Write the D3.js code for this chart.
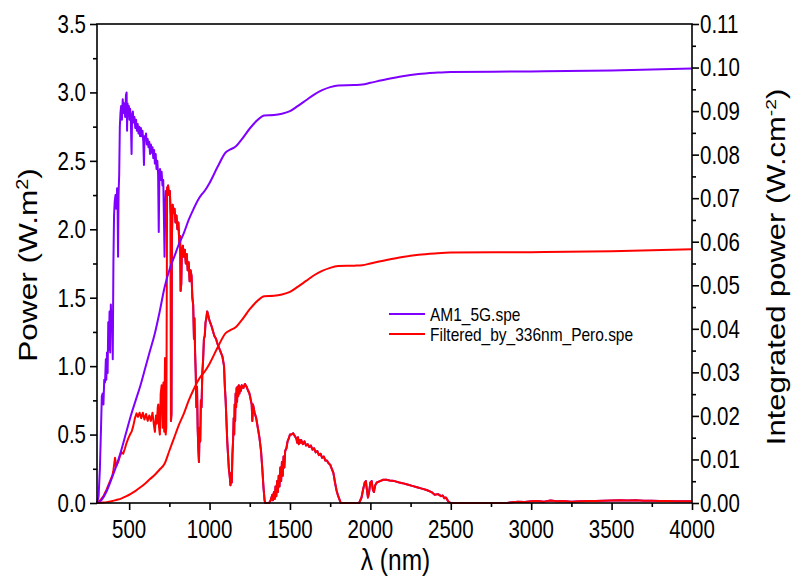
<!DOCTYPE html>
<html>
<head>
<meta charset="utf-8">
<script src="https://cdn.jsdelivr.net/npm/d3@7"></script>
<style>
  html, body { margin: 0; padding: 0; background: #fff; }
  svg { display: block; font-family: "Liberation Sans", Arial, sans-serif; }
</style>
</head>
<body>
<svg id="chart" width="791" height="577"></svg>
<script>
// ---------- DATA ----------
// AM1.5G spectrum below the perovskite edge (above ~736 nm it equals the filtered spectrum)
const am15Wavelength = [300,310,318,325,330,335,340,345,350,355,358,362,366,370,374,378,382,386,390,395,398,402,406,410,415,420,425,428,431,434,438,442,446,450,455,460,465,470,475,480,484,487,490,494,498,502,506,510,515,518,523,528,533,538,543,548,553,558,563,568,573,578,583,588,592,596,600,605,610,615,620,625,630,635,640,645,650,655,660,665,670,675,680,684,688,692,697,702,707,712,716,720,724,728,733];
const am15Power = [0,0.05,0.25,0.55,0.78,0.80,0.72,0.90,0.88,1.05,0.90,1.10,0.95,1.32,1.12,1.40,1.10,1.45,1.30,1.40,1.05,1.75,2.10,2.20,2.25,2.15,2.30,2.20,1.80,2.25,2.40,2.75,2.85,2.90,2.80,2.95,2.85,2.92,2.82,2.98,3.00,2.72,2.92,2.86,2.90,2.80,2.88,2.82,2.55,2.82,2.86,2.78,2.82,2.74,2.80,2.72,2.77,2.70,2.75,2.68,2.74,2.68,2.72,2.64,2.47,2.68,2.66,2.70,2.62,2.66,2.60,2.64,2.55,2.62,2.56,2.60,2.52,2.58,2.48,2.55,2.44,2.50,2.40,1.98,2.40,2.44,2.36,2.42,2.32,2.36,2.10,1.80,2.12,2.28,2.25];

// Spectrum transmitted through the 336 nm perovskite layer
const filteredWavelength = [
  300,320,340,360,381,395,401,412,420,432,442,453,463,474,484,494,505,515,525,536,546,555,565,575,585,595,605,615,625,635,645,655,660,667,672,678,681,686,691,696,702,708,713,718,723,727,731,733,
  736,742,748,753,758,760,763,766,770,776,782,788,794,800,806,812,817,820,824,828,834,840,846,852,858,864,870,876,882,888,893,898,903,906,910,914,918,922,926,930,934,938,942,946,950,955,960,965,970,975,980,985,990,1000,1010,1020,1030,1040,1050,1060,1070,1080,1090,1095,1100,1105,1110,1115,1120,1125,1130,1135,1138,
  1142,1146,1150,1153,1156,1159,1162,1165,1168,1171,1174,1178,1182,1186,1190,1195,1200,1210,1220,1230,1240,1248,1255,1262,1266,1270,
  1280,1290,1300,1310,1320,1328,1335,1342,1346,
  1370,1380,1390,1395,1400,1405,1410,1415,1420,1425,1430,1435,1440,1445,1450,1455,1460,1465,1470,1478,1485,1492,1500,
  1510,1520,1530,1540,1545,1550,1555,1560,1565,1570,1580,1590,1600,1610,1620,1630,1640,1650,1660,1670,1680,1690,1700,1710,1720,1730,1740,1750,1760,1770,1780,1790,1800,1810,1815,
  1930,1945,1955,1965,1972,1978,1985,1992,2000,2008,2015,2022,2030,2040,2060,2080,2100,2120,2150,2180,2200,2230,2260,2290,2320,2350,2380,2400,2420,2440,2450,2460,2470,2485,2500,
  2850,2880,2920,2960,3000,3040,3080,3120,3160,3200,3250,3300,3350,3400,3450,3500,3550,3600,3650,3700,3750,3800,3850,3900,3950,4000];
const filteredPower = [
  0,0.02,0.05,0.10,0.16,0.20,0.23,0.33,0.27,0.30,0.34,0.37,0.36,0.40,0.44,0.47,0.50,0.52,0.56,0.62,0.655,0.63,0.66,0.62,0.66,0.61,0.65,0.60,0.64,0.60,0.66,0.56,0.52,0.64,0.58,0.70,0.72,0.55,0.50,0.80,0.86,0.55,0.88,0.52,1.06,0.50,0.55,1.20,
  2.30,2.32,2.25,2.28,2.10,0.60,0.65,1.95,2.18,2.12,2.15,2.05,2.10,2.00,2.05,1.90,1.95,1.55,1.60,1.85,1.88,1.80,1.85,1.75,1.82,1.70,1.76,1.62,1.70,1.66,1.50,1.45,1.20,1.35,1.10,0.95,0.70,0.85,0.55,0.40,0.30,0.55,0.45,0.75,0.70,0.95,1.05,1.20,1.22,1.32,1.35,1.40,1.38,1.33,1.30,1.26,1.22,1.20,1.16,1.13,1.10,1.07,1.00,0.85,0.75,0.60,0.45,0.35,0.25,0.20,0.13,0.22,0.15,
  0.35,0.45,0.62,0.50,0.72,0.60,0.80,0.70,0.84,0.74,0.85,0.78,0.86,0.80,0.85,0.82,0.86,0.84,0.87,0.85,0.82,0.80,0.76,0.72,0.60,0.72,
  0.66,0.62,0.55,0.48,0.38,0.25,0.12,0.02,0,
  0,0.02,0.06,0.02,0.08,0.03,0.12,0.05,0.16,0.08,0.20,0.12,0.26,0.16,0.30,0.20,0.34,0.26,0.38,0.40,0.45,0.47,0.50,
  0.50,0.51,0.49,0.47,0.44,0.48,0.43,0.46,0.44,0.46,0.43,0.45,0.42,0.43,0.41,0.42,0.39,0.40,0.37,0.38,0.35,0.36,0.33,0.34,0.31,0.31,0.29,0.28,0.25,0.22,0.15,0.09,0.05,0.02,0,
  0,0.04,0.10,0.15,0.16,0.10,0.04,0.08,0.15,0.16,0.10,0.08,0.13,0.15,0.16,0.17,0.17,0.165,0.16,0.15,0.145,0.135,0.125,0.115,0.105,0.095,0.08,0.06,0.065,0.05,0.055,0.035,0.04,0.01,0,
  0,0.006,0.01,0.008,0.012,0.015,0.01,0.018,0.012,0.014,0.01,0.012,0.015,0.014,0.016,0.018,0.02,0.018,0.02,0.017,0.016,0.015,0.014,0.012,0.013,0.012];

// Integrated power (right axis, W.cm-2)
const intWavelength = [300,330,360,390,420,450,480,510,540,570,600,630,660,690,720,750,780,810,840,870,900,930,950,970,1000,1050,1100,1130,1160,1200,1250,1300,1340,1400,1450,1500,1550,1600,1650,1700,1750,1800,1900,1950,2000,2100,2200,2300,2400,2500,3000,3500,4000];
const intAm15 = [0,0.0008,0.0027,0.0055,0.0085,0.0120,0.0160,0.0200,0.0235,0.0270,0.0310,0.0350,0.0390,0.0440,0.0495,0.0535,0.0565,0.0595,0.0620,0.0650,0.0675,0.0697,0.0708,0.0717,0.0735,0.0772,0.0805,0.0812,0.0818,0.0835,0.0860,0.0880,0.0890,0.0891,0.0894,0.0900,0.0912,0.0925,0.0938,0.0948,0.0955,0.0959,0.0960,0.0961,0.0965,0.0973,0.0980,0.0985,0.0988,0.0990,0.0991,0.0993,0.0998];
const intFiltered = [0,0.0001,0.0002,0.0004,0.0007,0.0010,0.0015,0.0021,0.0028,0.0036,0.0045,0.0055,0.0065,0.0077,0.0090,0.0120,0.0150,0.0180,0.0205,0.0235,0.0260,0.0282,0.0293,0.0302,0.0320,0.0357,0.0390,0.0397,0.0403,0.0420,0.0445,0.0465,0.0475,0.0476,0.0479,0.0485,0.0497,0.0510,0.0523,0.0533,0.0540,0.0544,0.0545,0.0546,0.0550,0.0558,0.0565,0.0570,0.0573,0.0575,0.0576,0.0578,0.0583];

const xTicks = [500,1000,1500,2000,2500,3000,3500,4000];
const yLeftTicks = [0,0.5,1.0,1.5,2.0,2.5,3.0,3.5];
const yRightTicks = [0,0.01,0.02,0.03,0.04,0.05,0.06,0.07,0.08,0.09,0.10,0.11];
const seriesNames = ["AM1_5G.spe", "Filtered_by_336nm_Pero.spe"];
const seriesColors = ["#7f00ff", "#ff0000"];

// ---------- CHART ----------
const svg = d3.select("#chart");
const L = 97, R = 692, T = 24, B = 503;
const S = 1.24;            // vertical stretch of the lettering in the reference

const x = d3.scaleLinear().domain([300, 4000]).range([L, R]);
const yL = d3.scaleLinear().domain([0, 3.5]).range([B, T]);
const yR = d3.scaleLinear().domain([0, 0.11]).range([B, T]);

const filtPts = filteredWavelength.map((w, i) => [w, filteredPower[i]]);
const amPts = am15Wavelength.map((w, i) => [w, am15Power[i]])
  .concat(filtPts.filter(p => p[0] >= 736));
const intAmPts = intWavelength.map((w, i) => [w, intAm15[i]]);
const intFiltPts = intWavelength.map((w, i) => [w, intFiltered[i]]);

const specLine = d3.line().x(d => x(d[0])).y(d => yL(d[1]));
const intLine = d3.line().x(d => x(d[0])).y(d => yR(d[1])).curve(d3.curveMonotoneX);

const g = svg.append("g");
g.append("path").attr("d", specLine(amPts)).attr("fill", "none")
  .attr("stroke", seriesColors[0]).attr("stroke-width", 2).attr("stroke-linejoin", "round");
g.append("path").attr("d", specLine(filtPts)).attr("fill", "none")
  .attr("stroke", seriesColors[1]).attr("stroke-width", 2).attr("stroke-linejoin", "round");
g.append("path").attr("d", intLine(intAmPts)).attr("fill", "none")
  .attr("stroke", seriesColors[0]).attr("stroke-width", 2);
g.append("path").attr("d", intLine(intFiltPts)).attr("fill", "none")
  .attr("stroke", seriesColors[1]).attr("stroke-width", 2);

// frame
svg.append("rect").attr("x", L).attr("y", T).attr("width", R - L).attr("height", B - T)
  .attr("fill", "none").attr("stroke", "#000").attr("stroke-width", 1.6);

function styleAxis(sel) {
  sel.select(".domain").remove();
  sel.selectAll(".tick line").attr("stroke", "#000").attr("stroke-width", 1.6);
  sel.selectAll(".tick text").remove();
}
const xMinor = d3.range(750, 4000, 500);
const yLMinor = d3.range(0.25, 3.5, 0.5);
const yRMinor = d3.range(0.005, 0.11, 0.01);

svg.append("g").attr("transform", `translate(0,${B})`)
  .call(d3.axisBottom(x).tickValues(xTicks).tickSize(7)).call(styleAxis);
svg.append("g").attr("transform", `translate(0,${B})`)
  .call(d3.axisBottom(x).tickValues(xMinor).tickSize(4)).call(styleAxis);
svg.append("g").attr("transform", `translate(${L},0)`)
  .call(d3.axisLeft(yL).tickValues(yLeftTicks).tickSize(7)).call(styleAxis);
svg.append("g").attr("transform", `translate(${L},0)`)
  .call(d3.axisLeft(yL).tickValues(yLMinor).tickSize(4)).call(styleAxis);
svg.append("g").attr("transform", `translate(${R},0)`)
  .call(d3.axisRight(yR).tickValues(yRightTicks).tickSize(7)).call(styleAxis);
svg.append("g").attr("transform", `translate(${R},0)`)
  .call(d3.axisRight(yR).tickValues(yRMinor).tickSize(4)).call(styleAxis);

// stretched tick labels
const fontTick = 20.5;
function label(px, py, str, anchor, dy, rot) {
  return svg.append("text")
    .attr("transform", rot ? `translate(${px},${py}) rotate(-90) scale(${S},1)` : `translate(${px},${py}) scale(1,${S})`)
    .attr("text-anchor", anchor).attr("dy", dy).attr("fill", "#000").text(str);
}
xTicks.forEach(v => label(x(v), 520, d3.format("d")(v), "middle", "0.71em").attr("font-size", fontTick));
yLeftTicks.forEach(v => label(86, yL(v), d3.format(".1f")(v), "end", "0.35em").attr("font-size", fontTick));
yRightTicks.forEach(v => label(700, yR(v), d3.format(".2f")(v), "start", "0.35em").attr("font-size", fontTick));

// axis titles
label((L + R) / 2 + 1, 570, "λ (nm)", "middle", 0).attr("font-size", 24.5);

const lt = label(28, 265, "", "middle", "0.35em", true).attr("font-size", 25.5);
lt.append("tspan").text("Power (W.m");
lt.append("tspan").attr("dy", -9).attr("font-size", 16).text("2");
lt.append("tspan").attr("dy", 9).text(")");

const rt = label(776, 267, "", "middle", "0.35em", true).attr("font-size", 25);
rt.append("tspan").text("Integrated power (W.cm");
rt.append("tspan").attr("dy", -9).attr("font-size", 15.5).text("-2");
rt.append("tspan").attr("dy", 9).text(")");

// legend
seriesNames.forEach((name, i) => {
  const yy = 314 + i * 20;
  svg.append("line").attr("x1", 389).attr("x2", 425).attr("y1", yy).attr("y2", yy)
    .attr("stroke", seriesColors[i]).attr("stroke-width", 2);
  label(430, yy, name, "start", "0.35em").attr("font-size", 15.5);
});
</script>
</body>
</html>
